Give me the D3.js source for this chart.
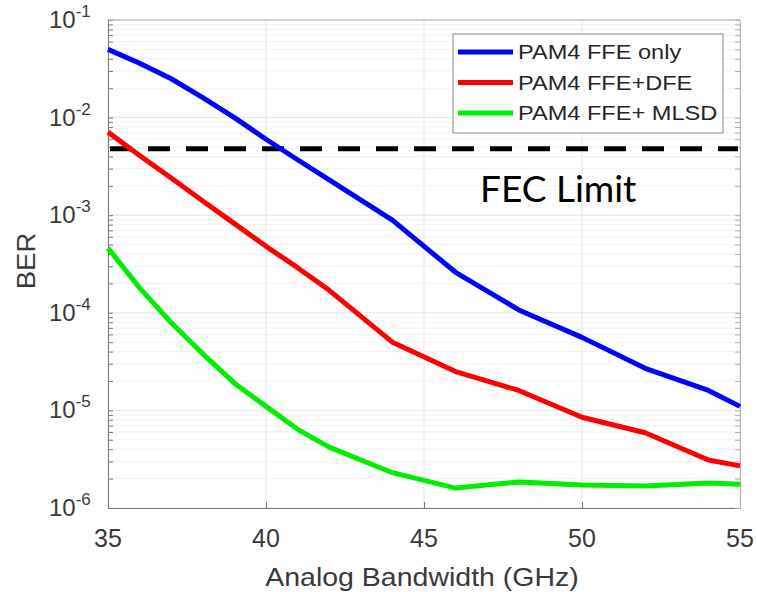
<!DOCTYPE html>
<html>
<head>
  <meta charset="utf-8" />
  <script src="https://d3js.org/d3.v7.min.js"></script>
  <style>
    body { margin: 0; background: #fff; }
    svg { font-family: "Liberation Sans", Arial, sans-serif; }
  </style>
</head>
<body>
<script>
  // - - - - - DATA - - - - - //
  var bandwidth = [35, 36, 37, 38, 39, 40, 41, 42, 44, 46, 48, 50, 52, 54, 55];
  var berFFE  = [5.0e-2, 3.6e-2, 2.5e-2, 1.6e-2, 1.0e-2, 6.0e-3, 3.7e-3, 2.3e-3, 8.9e-4, 2.6e-4, 1.07e-4, 5.6e-5, 2.7e-5, 1.6e-5, 1.1e-5];
  var berDFE  = [7.1e-3, 4.1e-3, 2.4e-3, 1.4e-3, 8.2e-4, 4.8e-4, 2.9e-4, 1.7e-4, 5.0e-5, 2.5e-5, 1.6e-5, 8.5e-6, 5.9e-6, 3.1e-6, 2.7e-6];
  var berMLSD = [4.6e-4, 1.8e-4, 7.9e-5, 3.8e-5, 1.9e-5, 1.1e-5, 6.4e-6, 4.2e-6, 2.3e-6, 1.6e-6, 1.85e-6, 1.72e-6, 1.68e-6, 1.8e-6, 1.75e-6];
  var seriesNames = ["PAM4 FFE only", "PAM4 FFE+DFE", "PAM4 FFE+ MLSD"];
  var seriesColors = ["#0000ff", "#ff0000", "#00ee00"];
  var xTicks = [35, 40, 45, 50, 55];
  var yExps = [-1, -2, -3, -4, -5, -6];
  var fecLimit = 4.8e-3;

  // - - - - - LAYOUT - - - - - //
  var W = 757, H = 592;
  var margin = {top: 20, right: 17, bottom: 84, left: 108};
  var width = W - margin.left - margin.right,
      height = H - margin.top - margin.bottom;

  var svg = d3.select("body").append("svg")
      .attr("width", W).attr("height", H);
  var g = svg.append("g")
      .attr("transform", "translate(" + margin.left + "," + margin.top + ")");

  var x = d3.scaleLinear().domain([35, 55]).range([0, width]);
  var y = d3.scaleLog().domain([1e-6, 1e-1]).range([height, 0]);

  // minor grid
  var minors = [];
  for (var e = -6; e < -1; e++) {
    for (var m = 2; m < 10; m++) minors.push(m * Math.pow(10, e));
  }
  g.append("g").selectAll("line").data(minors).enter().append("line")
      .attr("x1", 0).attr("x2", width)
      .attr("y1", function(d) { return y(d); }).attr("y2", function(d) { return y(d); })
      .attr("stroke", "#f2f2f2").attr("stroke-width", 1);

  // major grid
  g.append("g").selectAll("line").data(yExps).enter().append("line")
      .attr("x1", 0).attr("x2", width)
      .attr("y1", function(d) { return y(Math.pow(10, d)); })
      .attr("y2", function(d) { return y(Math.pow(10, d)); })
      .attr("stroke", "#e3e3e3").attr("stroke-width", 1);
  g.append("g").selectAll("line").data(xTicks).enter().append("line")
      .attr("x1", function(d) { return x(d); }).attr("x2", function(d) { return x(d); })
      .attr("y1", 0).attr("y2", height)
      .attr("stroke", "#e3e3e3").attr("stroke-width", 1);

  // axes (ticks inward)
  var xAxis = d3.axisBottom(x).tickValues(xTicks).tickSizeInner(-6).tickSizeOuter(0).tickFormat("");
  g.append("g").attr("transform", "translate(0," + height + ")").call(xAxis)
    .call(function(s) {
      s.select(".domain").attr("stroke", "#7a7a7a");
      s.selectAll(".tick line").attr("stroke", "#7a7a7a");
    });
  var allYTicks = minors.concat(yExps.map(function(d) { return Math.pow(10, d); }));
  var yAxis = d3.axisLeft(y).tickValues(allYTicks)
      .tickSizeInner(-5).tickSizeOuter(0).tickFormat("");
  g.append("g").call(yAxis)
    .call(function(s) {
      s.select(".domain").attr("stroke", "#7a7a7a");
      s.selectAll(".tick line").attr("stroke", "#7a7a7a");
    });
  var yAxisR = d3.axisRight(y).tickValues(allYTicks)
      .tickSizeInner(-5).tickSizeOuter(0).tickFormat("");
  g.append("g").attr("transform", "translate(" + width + ",0)").call(yAxisR)
    .call(function(s) {
      s.select(".domain").attr("stroke", "#b0b0b0");
      s.selectAll(".tick line").attr("stroke", "#b0b0b0");
    });
  g.append("line").attr("x1", 0).attr("x2", width).attr("y1", 0).attr("y2", 0)
      .attr("stroke", "#b0b0b0");

  // tick labels
  g.append("g").selectAll("text").data(xTicks).enter().append("text")
      .attr("x", function(d) { return x(d); })
      .attr("y", height + 39)
      .attr("text-anchor", "middle")
      .attr("font-size", 25).attr("fill", "#3a3a3a")
      .text(function(d) { return d; });

  var yl = g.append("g").selectAll("text").data(yExps).enter().append("text")
      .attr("x", -59)
      .attr("y", function(d) { return y(Math.pow(10, d)) + 8; })
      .attr("font-size", 24).attr("fill", "#3a3a3a");
  yl.append("tspan").text("10");
  yl.append("tspan").attr("dy", -11).attr("font-size", 17)
      .text(function(d) { return "-" + Math.abs(d); });

  // axis titles
  svg.append("text")
      .attr("transform", "translate(" + (margin.left + width / 2 - 2) + ",586) scale(1.14,1)")
      .attr("text-anchor", "middle")
      .attr("font-size", 25).attr("fill", "#3a3a3a")
      .text("Analog Bandwidth (GHz)");
  svg.append("text")
      .attr("transform", "translate(35," + (margin.top + height / 2 - 3) + ") rotate(-90) scale(1.1,1)")
      .attr("text-anchor", "middle")
      .attr("font-size", 25).attr("fill", "#3a3a3a")
      .text("BER");

  // FEC limit
  g.append("line")
      .attr("x1", 2).attr("x2", width - 2)
      .attr("y1", y(fecLimit)).attr("y2", y(fecLimit))
      .attr("stroke", "#000").attr("stroke-width", 5)
      .attr("stroke-dasharray", "22,16");
  svg.append("text")
      .attr("x", 480).attr("y", 202)
      .attr("font-family", "Lato, 'Open Sans', sans-serif")
      .attr("font-size", 37).attr("fill", "#000")
      .text("FEC Limit");

  // curves
  var allSeries = [berFFE, berDFE, berMLSD];
  var line = d3.line()
      .x(function(d, i) { return x(bandwidth[i]); })
      .y(function(d) { return y(d); });
  g.append("g").selectAll("path").data(allSeries).enter().append("path")
      .attr("d", line)
      .attr("fill", "none")
      .attr("stroke", function(d, i) { return seriesColors[i]; })
      .attr("stroke-width", 5)
      .attr("stroke-linejoin", "round");

  // legend
  var leg = svg.append("g");
  leg.append("rect")
      .attr("x", 453).attr("y", 34).attr("width", 270).attr("height", 99)
      .attr("fill", "#fff").attr("stroke", "#8a8a8a").attr("stroke-width", 1);
  var row = leg.selectAll("g.row").data(seriesNames).enter().append("g")
      .attr("transform", function(d, i) { return "translate(458," + (52 + i * 30.5) + ")"; });
  row.append("line")
      .attr("x1", 0).attr("x2", 55).attr("y1", 0).attr("y2", 0)
      .attr("stroke", function(d, i) { return seriesColors[i]; })
      .attr("stroke-width", 5);
  row.append("text")
      .attr("transform", "translate(60,7) scale(1.15,1)")
      .attr("font-size", 20.5).attr("fill", "#262626")
      .text(function(d) { return d; });
</script>
</body>
</html>
